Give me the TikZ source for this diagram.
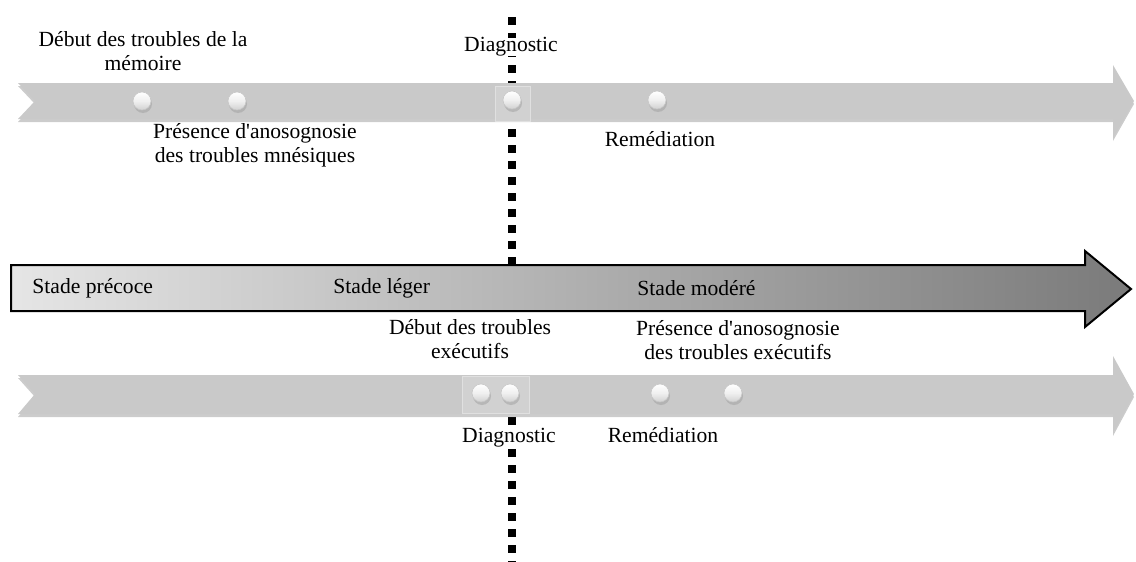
\documentclass[tikz,border=0pt]{standalone}
\usepackage{fontspec}
\setmainfont{Liberation Serif}
\usepackage{tikz}
\usetikzlibrary{arrows.meta}

\tikzset{
  ribbon/.style={fill=black!21},
  ribbonshadow/.style={fill=black!40, opacity=.5},
  ball/.style={circle, minimum size=9pt, inner sep=0pt, top color=white, bottom color=black!18,
    middle color=white!94!black, draw=black!22, line width=.3pt},
  ballshadow/.style={circle, minimum size=9pt, inner sep=0pt, fill=black!40, opacity=.45},
  halo/.style={draw=black!12, fill=black!18, line width=.4pt},
  lbl/.style={align=center, inner sep=0pt, font=\fontsize{10.8}{12}\selectfont},
  vline/.style={line width=4pt, dash pattern=on 4pt off 4pt},
}

\begin{document}
\begin{tikzpicture}[x=0.5pt,y=-0.5pt]
  \useasboundingbox (0,0) rectangle (1136,562);

  % axe du diagnostic
  \coordinate (vtop) at (512,17);
  \coordinate (vmid-a) at (512,265);
  \coordinate (vmid-b) at (512,417);
  \coordinate (vbot) at (512,562);
  \draw[vline] (vtop) -- (vmid-a);
  \draw[vline] (vmid-b) -- (vbot);

  % frise du haut
  \path[ribbonshadow] (18,86) -- (1113,86) -- (1113,68) -- (1134,104) -- (1113,141)
    -- (1113,122) -- (18,122) -- (35,104) -- cycle;
  \path[ribbon] (18,83) -- (1113,83) -- (1113,65) -- (1134,101) -- (1113,138)
    -- (1113,119) -- (18,119) -- (35,101) -- cycle;
  \path[halo] (495,86) rectangle (530,121);

  % frise centrale
  \draw[line width=1pt, left color=black!10, right color=black!52]
    (11,265) -- (1085,265) -- (1085,251) -- (1131,289) -- (1085,327)
    -- (1085,311) -- (11,311) -- cycle;

  % frise du bas
  \path[ribbonshadow] (18,378) -- (1113,378) -- (1113,359) -- (1134,397) -- (1113,436)
    -- (1113,417) -- (18,417) -- (35,397) -- cycle;
  \path[ribbon] (18,375) -- (1113,375) -- (1113,356) -- (1134,394) -- (1113,433)
    -- (1113,414) -- (18,414) -- (35,394) -- cycle;
  \path[halo] (462,376) rectangle (529,413);

  \begin{scope}[every node/.style={ballshadow}]
    \node at (143,104) {};
    \node at (238,104) {};
    \node at (513,103) {};
    \node at (658,103) {};
    \node at (482,396) {};
    \node at (511,396) {};
    \node at (661,396) {};
    \node at (734,396) {};
  \end{scope}

  \begin{scope}[every node/.style={ball}]
    \node (t-mem) at (142,101) {};
    \node (t-ano) at (237,101) {};
    \node (t-diag) at (512,100) {};
    \node (t-rem) at (657,100) {};
    \node (b-exe) at (481,393) {};
    \node (b-diag) at (510,393) {};
    \node (b-rem) at (660,393) {};
    \node (b-ano) at (733,393) {};
  \end{scope}

  \begin{scope}[every node/.style={lbl}]
    \node (l-t-mem) at (143,51) {Début des troubles de la\\mémoire};
    \node[fill=white] (l-t-diag) at (511,47) {Diagnostic};
    \node (l-t-ano) at (255,145) {Présence d\textquotesingle anosognosie\\des troubles mnésiques};
    \node (l-t-rem) at (660,139) {Remédiation};

    \node[anchor=west] (s-prec) at (32,288) {Stade précoce};
    \node[anchor=west] (s-leg) at (333,288) {Stade léger};
    \node[anchor=west] (s-mod) at (637,288) {Stade modéré};

    \node (l-b-exe) at (470,339) {Début des troubles\\exécutifs};
    \node (l-b-ano) at (738,340) {Présence d\textquotesingle anosognosie\\des troubles exécutifs};
    \node[fill=white] (l-b-diag) at (509,438) {Diagnostic};
    \node (l-b-rem) at (663,435) {Remédiation};
  \end{scope}
\end{tikzpicture}
\end{document}
